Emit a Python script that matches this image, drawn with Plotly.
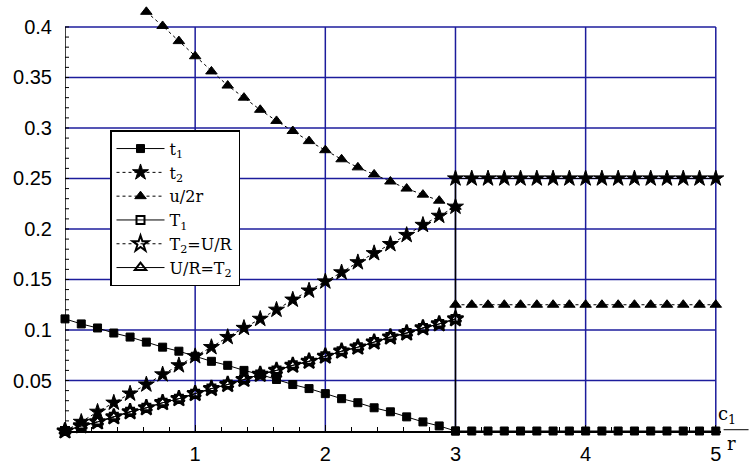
import plotly.graph_objects as go

# sample positions along c1/r (below and above the switch at c1/r = 3)
x_lo = [0.0, 0.125, 0.25, 0.375, 0.5, 0.625, 0.75, 0.875, 1.0, 1.125, 1.25, 1.375,
        1.5, 1.625, 1.75, 1.875, 2.0, 2.125, 2.25, 2.375, 2.5, 2.625, 2.75, 2.875, 3.0]
x_hi = [3.0, 3.125, 3.25, 3.375, 3.5, 3.625, 3.75, 3.875, 4.0, 4.125, 4.25, 4.375,
        4.5, 4.625, 4.75, 4.875, 5.0]
x_u2r = [0.625, 0.75, 0.875, 1.0, 1.125, 1.25, 1.375, 1.5, 1.625, 1.75, 1.875, 2.0,
         2.125, 2.25, 2.375, 2.5, 2.625, 2.75, 2.875, 3.0]

t1_lo = [0.111, 0.106, 0.102, 0.097, 0.093, 0.088, 0.083, 0.079, 0.074, 0.069, 0.065, 0.060,
         0.056, 0.051, 0.046, 0.042, 0.037, 0.032, 0.028, 0.023, 0.019, 0.014, 0.009, 0.005, 0.0]
t1_hi = [0.0, 0.0, 0.0, 0.0, 0.0, 0.0, 0.0, 0.0, 0.0, 0.0, 0.0, 0.0, 0.0, 0.0, 0.0, 0.0, 0.0]

t2_lo = [0.0, 0.009, 0.019, 0.028, 0.037, 0.046, 0.056, 0.065, 0.074, 0.083, 0.093, 0.102,
         0.111, 0.120, 0.130, 0.139, 0.148, 0.157, 0.167, 0.176, 0.185, 0.194, 0.204, 0.213, 0.222]
t2_hi = [0.25, 0.25, 0.25, 0.25, 0.25, 0.25, 0.25, 0.25, 0.25, 0.25, 0.25, 0.25, 0.25, 0.25,
         0.25, 0.25, 0.25]

u2r_lo = [0.415, 0.401, 0.386, 0.371, 0.356, 0.342, 0.330, 0.318, 0.307, 0.297, 0.287, 0.278,
          0.269, 0.261, 0.254, 0.247, 0.240, 0.234, 0.228, 0.222]
u2r_hi = [0.125, 0.125, 0.125, 0.125, 0.125, 0.125, 0.125, 0.125, 0.125, 0.125, 0.125, 0.125,
          0.125, 0.125, 0.125, 0.125, 0.125]

T1 = [0.0, 0.005, 0.009, 0.014, 0.019, 0.023, 0.028, 0.032, 0.037, 0.042, 0.046, 0.051,
      0.056, 0.060, 0.065, 0.069, 0.074, 0.079, 0.083, 0.088, 0.093, 0.097, 0.102, 0.106, 0.111]
T2 = [0.0, 0.005, 0.009, 0.014, 0.019, 0.023, 0.028, 0.032, 0.037, 0.042, 0.046, 0.051,
      0.056, 0.060, 0.065, 0.069, 0.074, 0.079, 0.083, 0.088, 0.093, 0.097, 0.102, 0.106, 0.111]
UR = [0.0, 0.005, 0.009, 0.014, 0.019, 0.023, 0.028, 0.032, 0.037, 0.042, 0.046, 0.051,
      0.056, 0.060, 0.065, 0.069, 0.074, 0.079, 0.083, 0.088, 0.093, 0.097, 0.102, 0.106, 0.111]

x_ticks = [1, 2, 3, 4, 5]
y_ticks = [0.05, 0.1, 0.15, 0.2, 0.25, 0.3, 0.35, 0.4]
y_tick_text = ["0.05", "0.1", "0.15", "0.2", "0.25", "0.3", "0.35", "0.4"]
x_switch = 3
y_minor_step = 0.01

BLACK = "black"
GRID = "#1c1c9c"
SERIF = "DejaVu Serif, Liberation Serif, serif"
SANS = "Liberation Sans, Arial, sans-serif"

fig = go.Figure()


def add(x, y, name, symbol, size, dash, show=True, group=None, mline=1):
    fig.add_trace(go.Scatter(
        x=x, y=y, name=name, mode="lines+markers",
        legendgroup=group or name, showlegend=show, cliponaxis=False,
        line=dict(color=BLACK, width=1, dash=dash),
        marker=dict(symbol=symbol, size=size, color=BLACK,
                    line=dict(color=BLACK, width=mline)),
    ))


add(x_lo, t1_lo, "t<sub>1</sub>", "square", 8, "solid")
add(x_lo, t2_lo, "t<sub>2</sub>", "star", 12, "dot")
add(x_u2r, u2r_lo, "u/2r", "triangle-up", 10, "3px,3px")
add(x_lo, T1, "T<sub>1</sub>", "square-open", 8, "solid", mline=2)
add(x_lo, T2, "T<sub>2</sub>=U/R", "star-open", 12, "dot", mline=2)
add(x_lo, UR, "U/R=T<sub>2</sub>", "triangle-up-open", 10, "solid", mline=2)

# jump at c1/r = 3
fig.add_trace(go.Scatter(x=[x_switch, x_switch], y=[t1_hi[0], t2_hi[0]], mode="lines",
                         showlegend=False, cliponaxis=False,
                         line=dict(color=BLACK, width=1.5)))
add(x_hi, t1_hi, "t<sub>1</sub>", "square", 8, "solid", show=False, group="t<sub>1</sub>")
add(x_hi, t2_hi, "t<sub>2</sub>", "star", 12, "solid", show=False, group="t<sub>2</sub>")
add(x_hi, u2r_hi, "u/2r", "triangle-up", 10, "3px,3px", show=False, group="u/2r")

y_top = y_ticks[-1]
x_right = x_ticks[-1]

# grid, limited to the labelled span
shapes = []
for yv in y_ticks:
    shapes.append(dict(type="line", xref="x", yref="y", x0=0, x1=x_right, y0=yv, y1=yv,
                       line=dict(color=GRID, width=1.5), layer="below"))
for xv in x_ticks:
    shapes.append(dict(type="line", xref="x", yref="y", x0=xv, x1=xv, y0=0, y1=y_top,
                       line=dict(color=GRID, width=1.5), layer="below"))

# vertical axis line and its small inward ticks, up to the top grid line
shapes.append(dict(type="line", xref="x", yref="y", x0=0, x1=0, y0=0, y1=y_top,
                   line=dict(color=BLACK, width=1.5)))
n_minor = int(round(y_top / y_minor_step))
for k in range(1, n_minor + 1):
    yv = k * y_minor_step
    shapes.append(dict(type="line", xref="x", yref="y", xsizemode="pixel", xanchor=0,
                       x0=0, x1=4, y0=yv, y1=yv, line=dict(color=BLACK, width=1)))

# fraction bar of the axis label
shapes.append(dict(type="line", xref="paper", yref="paper", x0=1.004, x1=1.042,
                   y0=0.003, y1=0.003, line=dict(color=BLACK, width=1)))

fig.update_layout(
    width=750, height=465,
    margin=dict(l=65, r=29, t=0, b=34, autoexpand=False),
    paper_bgcolor="white", plot_bgcolor="white",
    shapes=shapes,
    showlegend=True,
    legend=dict(x=0.0686, y=0.698, xanchor="left", yanchor="top",
                bgcolor="white", bordercolor=BLACK, borderwidth=1.5,
                font=dict(family=SERIF, size=16, color=BLACK),
                itemwidth=48, tracegroupgap=0),
    annotations=[
        dict(xref="paper", yref="paper", x=1.026, y=0.004, yanchor="bottom",
             text="c<sub>1</sub>", showarrow=False,
             font=dict(family=SERIF, size=18, color=BLACK)),
        dict(xref="paper", yref="paper", x=1.026, y=0.0, yanchor="top",
             text="r", showarrow=False,
             font=dict(family=SERIF, size=18, color=BLACK)),
    ],
)

fig.update_xaxes(
    range=[0, 5.04], showgrid=False, zeroline=False, automargin=False,
    showline=True, linecolor=BLACK, linewidth=1.5,
    tickmode="array", tickvals=x_ticks, ticktext=[str(v) for v in x_ticks],
    ticks="inside", ticklen=6, tickcolor=BLACK, ticklabelstandoff=4,
    tickfont=dict(family=SANS, size=20, color=BLACK),
    minor=dict(tickmode="linear", tick0=0, dtick=0.2, ticks="inside", ticklen=4,
               tickcolor=BLACK, showgrid=False),
)
fig.update_yaxes(
    range=[0, 0.4267], showgrid=False, zeroline=False, automargin=False,
    showline=False,
    tickmode="array", tickvals=y_ticks, ticktext=y_tick_text,
    ticks="", ticklabelstandoff=12,
    tickfont=dict(family=SANS, size=20, color=BLACK),
)

fig.write_html("out.html")
